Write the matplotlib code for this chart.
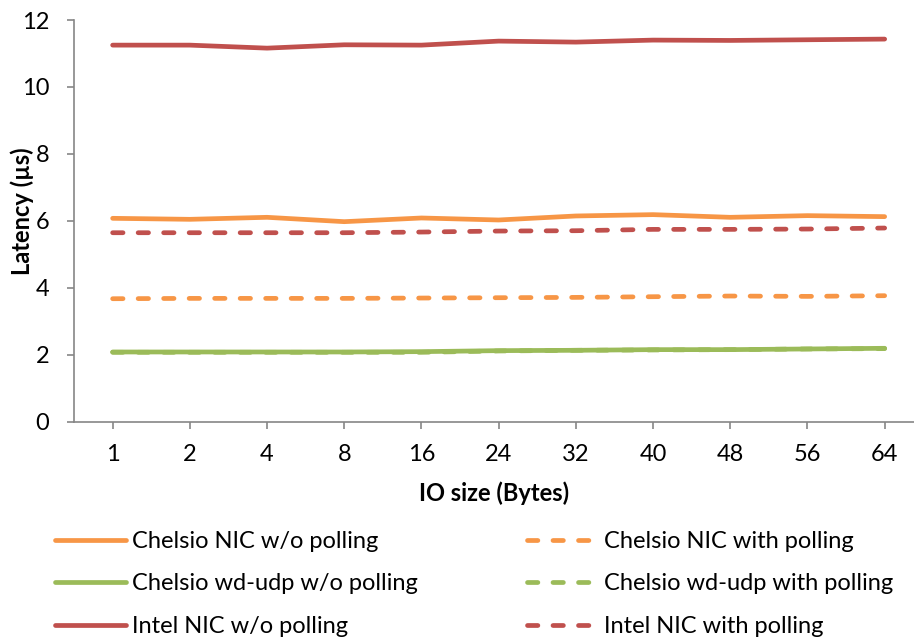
import matplotlib
matplotlib.use("Agg")
import matplotlib.pyplot as plt

plt.rcParams["font.family"] = ["Lato", "DejaVu Sans"]

# IO size categories and latencies (us)
io_sizes = ["1", "2", "4", "8", "16", "24", "32", "40", "48", "56", "64"]
chelsio_nic_nopoll = [6.08, 6.05, 6.11, 5.98, 6.09, 6.03, 6.15, 6.19, 6.11, 6.16, 6.13]
chelsio_nic_poll = [3.68, 3.69, 3.69, 3.69, 3.70, 3.71, 3.72, 3.74, 3.76, 3.75, 3.77]
wdudp_nopoll = [2.09, 2.09, 2.09, 2.09, 2.10, 2.13, 2.14, 2.16, 2.16, 2.18, 2.20]
wdudp_poll = [2.08, 2.08, 2.08, 2.08, 2.08, 2.12, 2.14, 2.15, 2.16, 2.18, 2.19]
intel_nopoll = [11.25, 11.25, 11.16, 11.26, 11.25, 11.37, 11.34, 11.40, 11.39, 11.41, 11.43]
intel_poll = [5.65, 5.65, 5.65, 5.65, 5.67, 5.70, 5.71, 5.75, 5.75, 5.76, 5.79]

orange = "#F79646"
green = "#9BBB59"
red = "#C0504D"
grey = "#868686"

fig = plt.figure(figsize=(9.14, 6.39), dpi=100)
ax = fig.add_axes([0.081, 0.3396, 0.919, 0.6291])

x = range(len(io_sizes))
lw = 3.4
dash = (2.2, 3.2)

series = [
    (chelsio_nic_nopoll, orange, "-", "Chelsio NIC w/o polling"),
    (chelsio_nic_poll, orange, "--", "Chelsio NIC with polling"),
    (wdudp_nopoll, green, "-", "Chelsio wd-udp w/o polling"),
    (wdudp_poll, green, "--", "Chelsio wd-udp with polling"),
    (intel_nopoll, red, "-", "Intel NIC w/o polling"),
    (intel_poll, red, "--", "Intel NIC with polling"),
]
handles = {}
for vals, col, ls, lab in series:
    if ls == "--":
        (h,) = ax.plot(x, vals, color=col, lw=lw, dashes=dash,
                       dash_capstyle="round", solid_capstyle="round", label=lab)
    else:
        (h,) = ax.plot(x, vals, color=col, lw=lw, solid_capstyle="round",
                       solid_joinstyle="round", label=lab)
    handles[lab] = h

ax.set_xlim(-0.5, 10.38)
ax.set_ylim(0, 12)
ax.set_yticks(range(0, 13, 2))
ax.set_xticks(list(x))
ax.set_xticklabels(io_sizes)

for s in ["top", "right"]:
    ax.spines[s].set_visible(False)
for s in ["left", "bottom"]:
    ax.spines[s].set_color(grey)
    ax.spines[s].set_linewidth(1.2)
ax.tick_params(axis="both", colors=grey, labelcolor="black", labelsize=17,
               length=5, width=1.2, direction="out")
ax.tick_params(axis="y", pad=13)
ax.tick_params(axis="x", pad=11)

ax.set_ylabel("Latency (µs)", fontsize=17, fontweight="bold")
ax.yaxis.set_label_coords(-0.048, 0.525)
ax.set_xlabel("IO size (Bytes)", fontsize=17, fontweight="bold", labelpad=12)

leg_kw = dict(frameon=False, fontsize=17, handlelength=3.0, handletextpad=0.25,
              labelspacing=0.91, borderpad=0, borderaxespad=0, loc="upper left")
left_labels = ["Chelsio NIC w/o polling", "Chelsio wd-udp w/o polling", "Intel NIC w/o polling"]
right_labels = ["Chelsio NIC with polling", "Chelsio wd-udp with polling", "Intel NIC with polling"]
leg1 = fig.legend([handles[l] for l in left_labels], left_labels,
                  bbox_to_anchor=(55 / 914, 1 - 531 / 639), **leg_kw)
leg2 = fig.legend([handles[l] for l in right_labels], right_labels,
                  bbox_to_anchor=(527 / 914, 1 - 531 / 639), **leg_kw)

fig.savefig("out.png", dpi=100)
